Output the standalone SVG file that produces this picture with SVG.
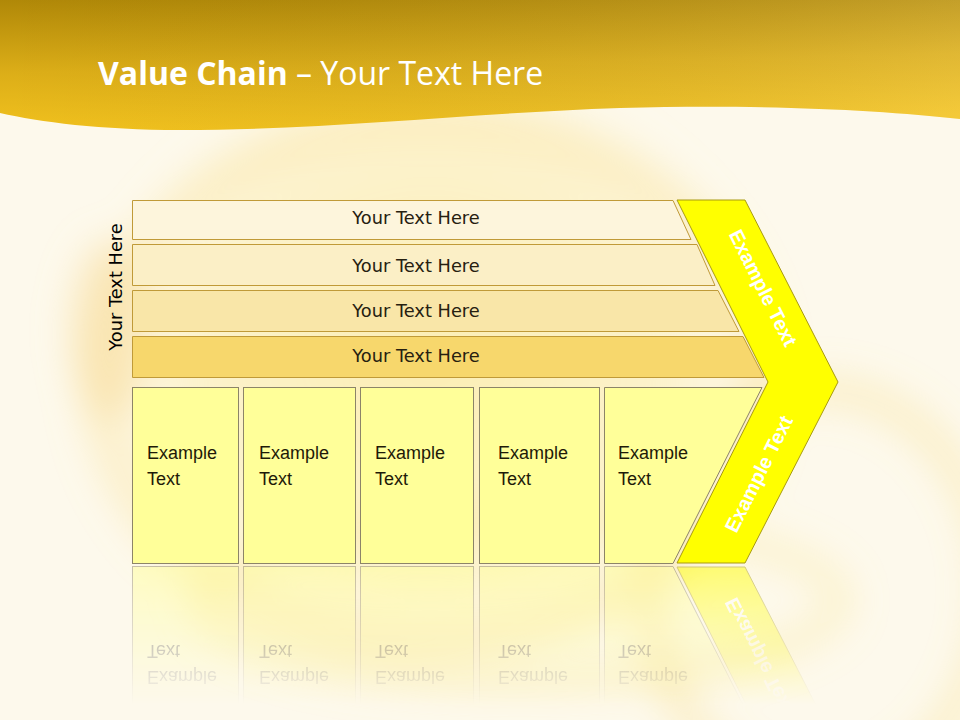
<svg xmlns="http://www.w3.org/2000/svg" width="960" height="720" viewBox="0 0 960 720">
<defs>
<style>
.bar{stroke:#c09a38;stroke-width:1}
.bt{font-family:"DejaVu Sans",sans-serif;font-size:17.8px;fill:#262010;text-anchor:middle}
.box{fill:#ffff99;stroke:#8c8468;stroke-width:1}
.et{font-family:"Liberation Sans",Arial,sans-serif;font-size:18px;fill:#1e1a08}
.chev{fill:#ffff00;stroke:#a89a10;stroke-width:1}
.ct{font-family:"Liberation Sans",Arial,sans-serif;font-size:20px;font-weight:bold;fill:#ffffff;text-anchor:middle}
</style>
<linearGradient id="hdr" x1="0" y1="0" x2="0.15" y2="1">
<stop offset="0" stop-color="#b08808"/>
<stop offset="0.55" stop-color="#dcae18"/>
<stop offset="1" stop-color="#f2c21e"/>
</linearGradient>
<linearGradient id="hdr2" x1="0" y1="0" x2="1" y2="0">
<stop offset="0" stop-color="#000" stop-opacity="0"/>
<stop offset="1" stop-color="#fff" stop-opacity="0.12"/>
</linearGradient>
<radialGradient id="glow1" cx="0.5" cy="0.5" r="0.5">
<stop offset="0" stop-color="#fbe27a" stop-opacity="0.5"/>
<stop offset="0.7" stop-color="#fbe690" stop-opacity="0.35"/>
<stop offset="1" stop-color="#fdf0c0" stop-opacity="0"/>
</radialGradient>
<filter id="blur" x="-20%" y="-20%" width="140%" height="140%"><feGaussianBlur stdDeviation="18"/></filter>
<linearGradient id="fade" gradientUnits="userSpaceOnUse" x1="0" y1="565" x2="0" y2="705">
<stop offset="0" stop-color="#fff" stop-opacity="0.5"/>
<stop offset="1" stop-color="#fff" stop-opacity="0"/>
</linearGradient>
<mask id="refmask" maskUnits="userSpaceOnUse" x="0" y="560" width="960" height="160">
<rect x="0" y="560" width="960" height="160" fill="url(#fade)"/>
</mask>
</defs>

<g id="background">
<rect width="960" height="720" fill="#fdf9ec"/>
<g filter="url(#blur)">
<ellipse cx="430" cy="360" rx="340" ry="300" fill="url(#glow1)"/>
<ellipse cx="430" cy="380" rx="330" ry="260" fill="none" stroke="#f8dc80" stroke-opacity="0.3" stroke-width="40"/>
<ellipse cx="820" cy="590" rx="170" ry="200" fill="none" stroke="#f6d870" stroke-opacity="0.3" stroke-width="30"/>
<ellipse cx="110" cy="330" rx="40" ry="90" fill="#f6d890" fill-opacity="0.45"/>
<ellipse cx="520" cy="600" rx="320" ry="80" fill="none" stroke="#f8e080" stroke-opacity="0.3" stroke-width="26"/>
</g>
</g>

<g id="header">
<path d="M0,0 H960 V119 C880,110 760,104 620,108 C470,113 330,130 180,130 C100,130 40,122 0,113 Z" fill="url(#hdr)"/>
<path d="M0,0 H960 V119 C880,110 760,104 620,108 C470,113 330,130 180,130 C100,130 40,122 0,113 Z" fill="url(#hdr2)"/>
<text x="98" y="85" font-family="'Open Sans','Liberation Sans',sans-serif" font-size="32px" fill="#ffffff"><tspan font-weight="bold">Value Chain</tspan> – Your Text Here</text>
</g>

<g id="side-label">
<text transform="translate(122,287) rotate(-90)" class="bt" style="fill:#000">Your Text Here</text>
</g>

<g id="bar1">
<polygon class="bar" fill="#fdf5dc" points="132.5,200.5 673,200.5 691,239.5 132.5,239.5"/>
<text x="416" y="224" class="bt">Your Text Here</text>
</g>
<g id="bar2">
<polygon class="bar" fill="#fbefc6" points="132.5,244.5 697,244.5 715,285.5 132.5,285.5"/>
<text x="416" y="272" class="bt">Your Text Here</text>
</g>
<g id="bar3">
<polygon class="bar" fill="#f9e6a8" points="132.5,290.5 718,290.5 739,331.5 132.5,331.5"/>
<text x="416" y="317" class="bt">Your Text Here</text>
</g>
<g id="bar4">
<polygon class="bar" fill="#f7d76c" points="132.5,336.5 743,336.5 764,377.5 132.5,377.5"/>
<text x="416" y="362" class="bt">Your Text Here</text>
</g>

<g id="diagram-main">
<g id="box1">
<rect class="box" x="132.5" y="387.5" width="106" height="176"/>
<text class="et" x="147" y="459">Example</text><text class="et" x="147" y="485">Text</text>
</g>
<g id="box2">
<rect class="box" x="243.5" y="387.5" width="112" height="176"/>
<text class="et" x="259" y="459">Example</text><text class="et" x="259" y="485">Text</text>
</g>
<g id="box3">
<rect class="box" x="360.5" y="387.5" width="113" height="176"/>
<text class="et" x="375" y="459">Example</text><text class="et" x="375" y="485">Text</text>
</g>
<g id="box4">
<rect class="box" x="479.5" y="387.5" width="120" height="176"/>
<text class="et" x="498" y="459">Example</text><text class="et" x="498" y="485">Text</text>
</g>
<g id="box5">
<polygon class="box" points="604.5,387.5 762,387.5 673,563.5 604.5,563.5"/>
<text class="et" x="618" y="459">Example</text><text class="et" x="618" y="485">Text</text>
</g>
<g id="chevron">
<polygon class="chev" points="677,200 745,200 838,382 745,563 677,563 768,382"/>
<text class="ct" transform="translate(757,291) rotate(63.4)">Example Text</text>
<text class="ct" transform="translate(765,477) rotate(-63.4)">Example Text</text>
</g>
</g>

<g id="reflection" mask="url(#refmask)">
<g transform="translate(0,1130) scale(1,-1)">
<rect class="box" x="132.5" y="387.5" width="106" height="176"/>
<rect class="box" x="243.5" y="387.5" width="112" height="176"/>
<rect class="box" x="360.5" y="387.5" width="113" height="176"/>
<rect class="box" x="479.5" y="387.5" width="120" height="176"/>
<polygon class="box" points="604.5,387.5 762,387.5 673,563.5 604.5,563.5"/>
<polygon class="chev" points="677,200 745,200 838,382 745,563 677,563 768,382"/>
<text class="et" x="147" y="459">Example</text><text class="et" x="147" y="485">Text</text>
<text class="et" x="259" y="459">Example</text><text class="et" x="259" y="485">Text</text>
<text class="et" x="375" y="459">Example</text><text class="et" x="375" y="485">Text</text>
<text class="et" x="498" y="459">Example</text><text class="et" x="498" y="485">Text</text>
<text class="et" x="618" y="459">Example</text><text class="et" x="618" y="485">Text</text>
<text class="ct" transform="translate(765,477) rotate(-63.4)">Example Text</text>
</g>
</g>
</svg>
